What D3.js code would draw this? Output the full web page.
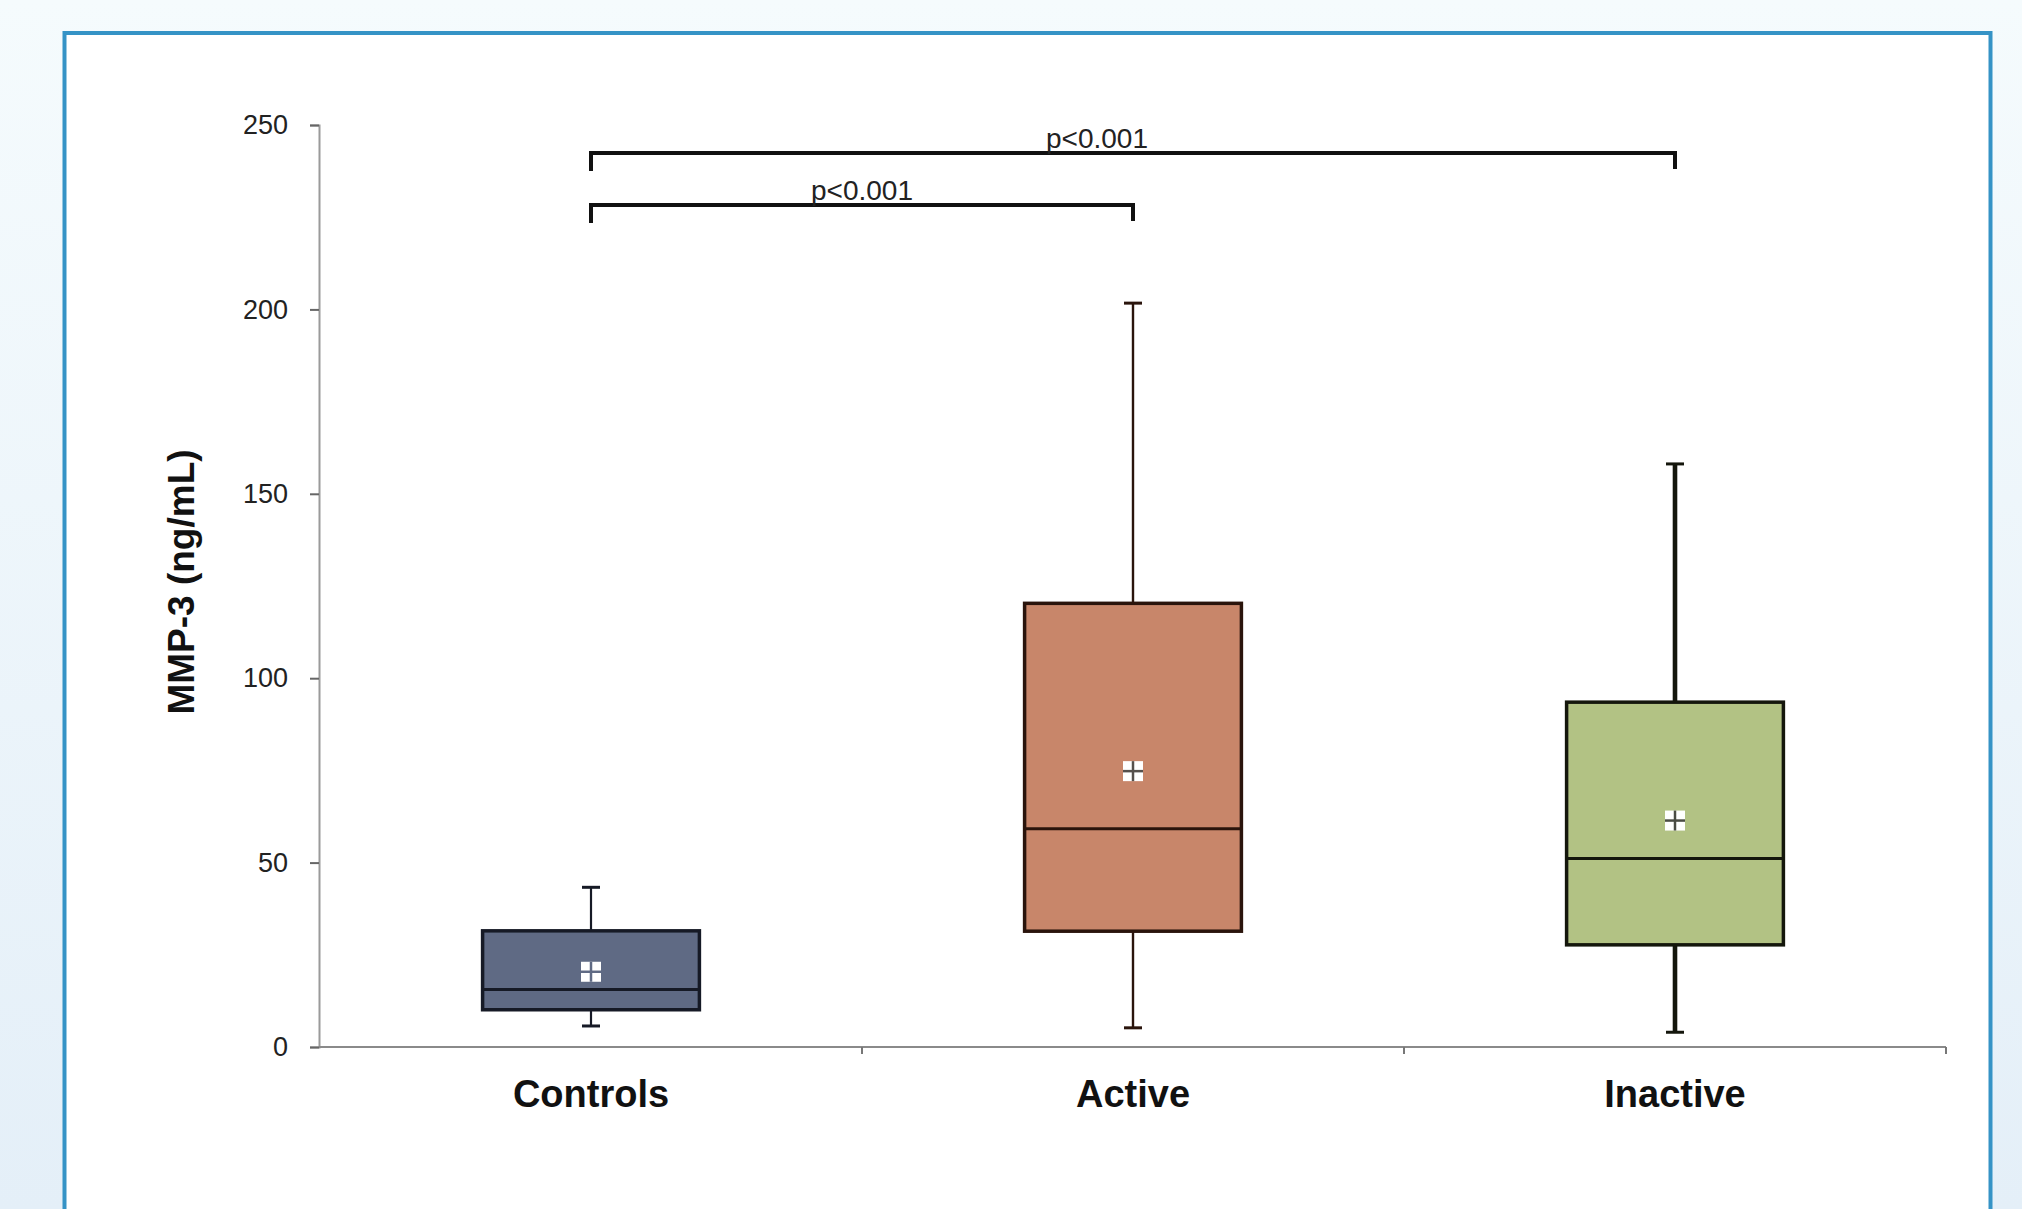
<!DOCTYPE html>
<html>
<head>
<meta charset="utf-8">
<script src="https://cdn.jsdelivr.net/npm/d3@7"></script>
<style>
  html, body { margin: 0; padding: 0; background: #eef6fb; }
  svg { display: block; }
  text { font-family: "Liberation Sans", Arial, Helvetica, sans-serif; }
</style>
</head>
<body>
<svg id="chart" width="2022" height="1209"></svg>
<script>
// MMP-3 serum levels by group: box = quartiles, line = median, whiskers = range, square = mean
const categories   = ["Controls", "Active", "Inactive"];
const whiskerLow   = [5.7, 5.2, 4.0];
const q1           = [10.1, 31.4, 27.7];
const median       = [15.6, 59.2, 51.1];
const q3           = [31.5, 120.3, 93.5];
const whiskerHigh  = [43.3, 201.7, 158.1];
const mean         = [20.4, 74.8, 61.4];
const yTicks       = [0, 50, 100, 150, 200, 250];
const yLabel       = "MMP-3 (ng/mL)";

// Pairwise comparisons drawn as brackets above the boxes
const compFrom  = ["Controls", "Controls"];
const compTo    = ["Active", "Inactive"];
const compLevel = [228.3, 242.4];
const compText  = ["p<0.001", "p<0.001"];

// Styling
const fills      = ["#5f6a84", "#c8866a", "#b2c284"];
const strokes    = ["#161a26", "#2a140c", "#14160c"];
const whiskerW   = [2.2, 2.4, 4.6];
const crossCol   = ["#5f6a84", "#55504c", "#4a4c44"];
const labelShift = [0, -36];

const W = 2022, H = 1209;
const svg = d3.select("#chart");

// page background and framed white panel
const defs = svg.append("defs");
const grad = defs.append("linearGradient").attr("id", "bg").attr("x1", 0).attr("y1", 0).attr("x2", 0).attr("y2", 1);
grad.append("stop").attr("offset", "0%").attr("stop-color", "#f5fbfd");
grad.append("stop").attr("offset", "100%").attr("stop-color", "#e4eff8");
svg.append("rect").attr("width", W).attr("height", H).attr("fill", "url(#bg)");
svg.append("rect")
  .attr("x", 64.5).attr("y", 33).attr("width", 1926).attr("height", 1300)
  .attr("fill", "#ffffff").attr("stroke", "#3593c6").attr("stroke-width", 4);

// scales
const x = d3.scaleBand().domain(categories).range([320, 1946]);
const y = d3.scaleLinear().domain([0, 250]).range([1047, 125]);
const cx = c => x(c) + x.bandwidth() / 2;
const boxW = x.bandwidth() * 0.4;

// y axis
const yAxis = svg.append("g").attr("transform", "translate(319,0)")
  .call(d3.axisLeft(y).tickValues(yTicks).tickSize(9).tickPadding(22).tickFormat(d3.format("d")));
yAxis.select(".domain").attr("stroke", "#9a9a9a").attr("stroke-width", 2);
yAxis.selectAll(".tick line").attr("stroke", "#666").attr("stroke-width", 2);
yAxis.selectAll(".tick text")
  .attr("fill", "#222").attr("font-size", 27)
  .attr("font-family", "'Liberation Sans', Arial, sans-serif");

// x axis line with band-boundary ticks
const xAxis = svg.append("g").attr("transform", "translate(0,1047)");
xAxis.append("line").attr("x1", 319).attr("x2", 1946).attr("stroke", "#8a8a8a").attr("stroke-width", 2);
xAxis.selectAll("line.bt").data(categories.slice(1).map(c => x(c)).concat([x.range()[1]]))
  .join("line").attr("class", "bt")
  .attr("x1", d => d).attr("x2", d => d).attr("y1", 0).attr("y2", 7)
  .attr("stroke", "#777").attr("stroke-width", 2);
xAxis.selectAll("text").data(categories).join("text")
  .attr("x", d => cx(d)).attr("y", 60)
  .attr("text-anchor", "middle").attr("font-size", 38).attr("font-weight", "bold")
  .attr("fill", "#111").text(d => d);

// y title
svg.append("text")
  .attr("transform", "translate(181,582) rotate(-90)")
  .attr("text-anchor", "middle").attr("dominant-baseline", "central")
  .attr("font-size", 37).attr("font-weight", "bold").attr("fill", "#111")
  .text(yLabel);

// boxes
const g = svg.append("g");
categories.forEach((c, i) => {
  const xc = cx(c);
  const grp = g.append("g");
  // whiskers
  grp.append("line").attr("x1", xc).attr("x2", xc).attr("y1", y(q3[i])).attr("y2", y(whiskerHigh[i]))
    .attr("stroke", strokes[i]).attr("stroke-width", whiskerW[i]);
  grp.append("line").attr("x1", xc).attr("x2", xc).attr("y1", y(q1[i])).attr("y2", y(whiskerLow[i]))
    .attr("stroke", strokes[i]).attr("stroke-width", whiskerW[i]);
  [whiskerHigh[i], whiskerLow[i]].forEach(v => {
    grp.append("line").attr("x1", xc - 9).attr("x2", xc + 9).attr("y1", y(v)).attr("y2", y(v))
      .attr("stroke", strokes[i]).attr("stroke-width", 3);
  });
  // box
  grp.append("rect")
    .attr("x", xc - boxW / 2).attr("width", boxW)
    .attr("y", y(q3[i])).attr("height", y(q1[i]) - y(q3[i]))
    .attr("fill", fills[i]).attr("stroke", strokes[i]).attr("stroke-width", 3.5);
  // median
  grp.append("line").attr("x1", xc - boxW / 2).attr("x2", xc + boxW / 2)
    .attr("y1", y(median[i])).attr("y2", y(median[i]))
    .attr("stroke", strokes[i]).attr("stroke-width", 3);
  // mean marker
  const my = y(mean[i]);
  grp.append("rect").attr("x", xc - 10).attr("y", my - 10).attr("width", 20).attr("height", 20).attr("fill", "#ffffff");
  grp.append("line").attr("x1", xc - 10).attr("x2", xc + 10).attr("y1", my).attr("y2", my)
    .attr("stroke", crossCol[i]).attr("stroke-width", 2.5);
  grp.append("line").attr("x1", xc).attr("x2", xc).attr("y1", my - 10).attr("y2", my + 10)
    .attr("stroke", crossCol[i]).attr("stroke-width", 2.5);
});

// significance brackets
compFrom.forEach((f, i) => {
  const x1 = cx(f), x2 = cx(compTo[i]), ly = y(compLevel[i]);
  svg.append("path")
    .attr("d", `M${x1},${ly + 18}V${ly}H${x2}V${ly + 16}`)
    .attr("fill", "none").attr("stroke", "#111").attr("stroke-width", 4);
  svg.append("text")
    .attr("x", (x1 + x2) / 2 + labelShift[i]).attr("y", ly - 5)
    .attr("text-anchor", "middle").attr("font-size", 28).attr("fill", "#222")
    .text(compText[i]);
});
</script>
</body>
</html>
